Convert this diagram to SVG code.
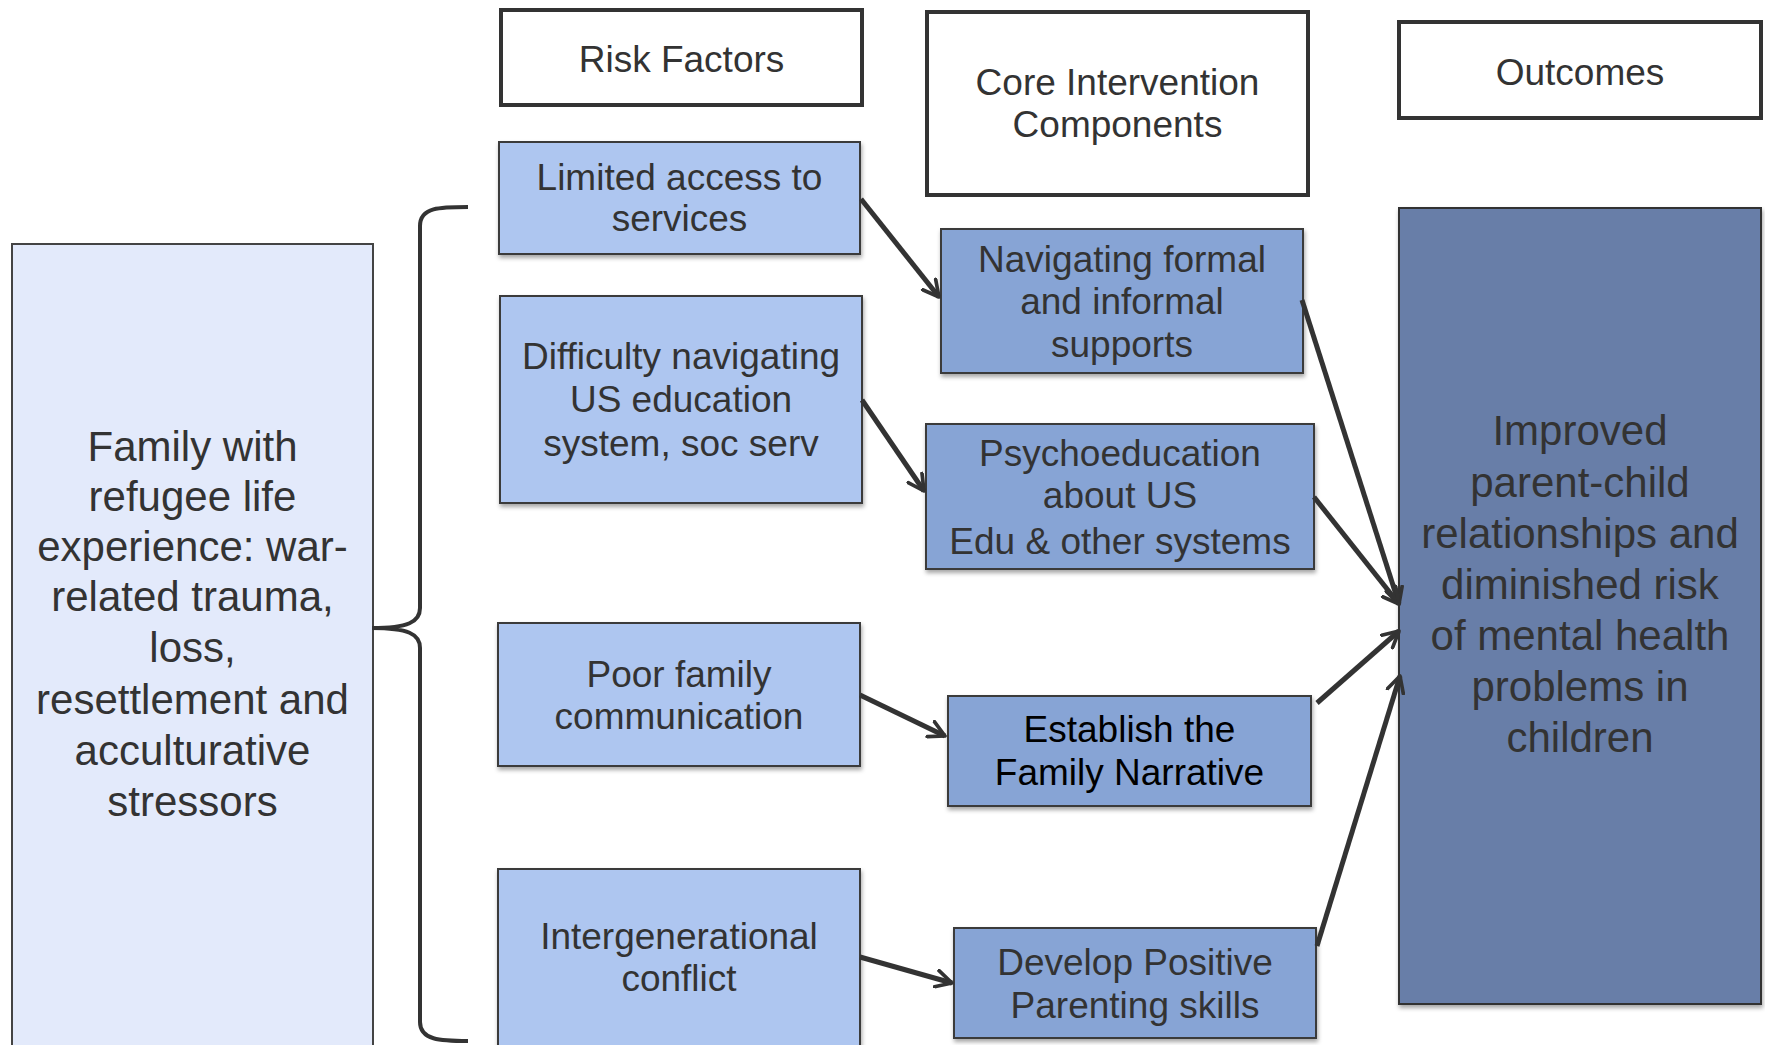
<svg xmlns="http://www.w3.org/2000/svg" width="1765" height="1045" viewBox="0 0 1765 1045">
<style>
  text { font-family: "Liberation Sans", Arial, Helvetica, sans-serif; fill: #333333; text-anchor: middle; }
  .hdr rect { fill: #ffffff; stroke: #333333; stroke-width: 4; }
  .hdr text { font-size: 37px; }
  .risk rect { fill: #aec6f0; stroke: #3a3a3a; stroke-width: 2; filter: url(#sh); }
  .core rect { fill: #87a4d5; stroke: #3a3a3a; stroke-width: 2; filter: url(#sh); }
  .node text { font-size: 37px; }
  .big { font-size: 42px; }
  .conn line { stroke: #333333; stroke-width: 5; marker-end: url(#ah); }
</style>
<defs>
  <filter id="sh" x="-5%" y="-5%" width="115%" height="120%">
    <feDropShadow dx="1" dy="3" stdDeviation="2" flood-color="#000" flood-opacity="0.35"/>
  </filter>
  <marker id="ah" viewBox="0 0 12 12" refX="10.5" refY="6" markerWidth="4" markerHeight="4" orient="auto" markerUnits="strokeWidth">
    <path d="M1,1 L10.5,6 L1,11" fill="none" stroke="#333333" stroke-width="2.2" stroke-linecap="round" stroke-linejoin="round"/>
  </marker>
</defs>

<g id="left-family">
  <rect x="12" y="244" width="361" height="820" fill="#e3eafb" stroke="#444444" stroke-width="2"/>
  <text class="big" x="192.5" y="461">Family with</text>
  <text class="big" x="192.5" y="511">refugee life</text>
  <text class="big" x="192.5" y="561">experience: war-</text>
  <text class="big" x="192.5" y="611">related trauma,</text>
  <text class="big" x="192.5" y="662">loss,</text>
  <text class="big" x="192.5" y="714">resettlement and</text>
  <text class="big" x="192.5" y="765">acculturative</text>
  <text class="big" x="192.5" y="816">stressors</text>
</g>

<g id="brace">
  <path d="M468,207 C440,207 420,207 420,226 L420,608 C420,622 408,628 372,628 C408,628 420,634 420,648 L420,1022 C420,1040 440,1041 468,1041" fill="none" stroke="#333333" stroke-width="4"/>
</g>

<g id="hdr-risk" class="hdr">
  <rect x="501" y="10" width="361" height="95"/>
  <text x="681.5" y="72">Risk Factors</text>
</g>
<g id="hdr-core" class="hdr">
  <rect x="927" y="12" width="381" height="183"/>
  <text x="1117.5" y="95">Core Intervention</text>
  <text x="1117.5" y="137">Components</text>
</g>
<g id="hdr-outcomes" class="hdr">
  <rect x="1399" y="22" width="362" height="96"/>
  <text x="1580" y="85">Outcomes</text>
</g>

<g id="risk-access" class="node risk">
  <rect x="499" y="142" width="361" height="112"/>
  <text x="679.5" y="190">Limited access to</text>
  <text x="679.5" y="231">services</text>
</g>
<g id="risk-education" class="node risk">
  <rect x="500" y="296" width="362" height="207"/>
  <text x="681" y="369">Difficulty navigating</text>
  <text x="681" y="412">US education</text>
  <text x="681" y="456">system, soc serv</text>
</g>
<g id="risk-communication" class="node risk">
  <rect x="498" y="623" width="362" height="143"/>
  <text x="679" y="687">Poor family</text>
  <text x="679" y="729">communication</text>
</g>
<g id="risk-conflict" class="node risk">
  <rect x="498" y="869" width="362" height="190"/>
  <text x="679" y="949">Intergenerational</text>
  <text x="679" y="991">conflict</text>
</g>

<g id="core-supports" class="node core">
  <rect x="941" y="229" width="362" height="144"/>
  <text x="1122" y="272">Navigating formal</text>
  <text x="1122" y="314">and informal</text>
  <text x="1122" y="357">supports</text>
</g>
<g id="core-psychoeducation" class="node core">
  <rect x="926" y="424" width="388" height="145"/>
  <text x="1120" y="466">Psychoeducation</text>
  <text x="1120" y="508">about US</text>
  <text x="1120" y="554">Edu &amp; other systems</text>
</g>
<g id="core-narrative" class="node core">
  <rect x="948" y="696" width="363" height="110"/>
  <text x="1129.5" y="742" style="fill:#000000">Establish the</text>
  <text x="1129.5" y="785" style="fill:#000000">Family Narrative</text>
</g>
<g id="core-parenting" class="node core">
  <rect x="954" y="928" width="362" height="110"/>
  <text x="1135" y="975">Develop Positive</text>
  <text x="1135" y="1018">Parenting skills</text>
</g>

<g id="outcome">
  <rect x="1399" y="208" width="362" height="796" fill="#677ea8" stroke="#333333" stroke-width="2" filter="url(#sh)"/>
  <text class="big" x="1580" y="445">Improved</text>
  <text class="big" x="1580" y="497">parent-child</text>
  <text class="big" x="1580" y="548">relationships and</text>
  <text class="big" x="1580" y="599">diminished risk</text>
  <text class="big" x="1580" y="650">of mental health</text>
  <text class="big" x="1580" y="701">problems in</text>
  <text class="big" x="1580" y="752">children</text>
</g>

<g id="connectors" class="conn">
  <line x1="861" y1="199" x2="939" y2="297"/>
  <line x1="862" y1="400" x2="924" y2="491"/>
  <line x1="860" y1="695" x2="945" y2="736"/>
  <line x1="860" y1="957" x2="952" y2="983"/>
  <line x1="1302" y1="300" x2="1399" y2="604"/>
  <line x1="1314" y1="497" x2="1399" y2="604"/>
  <line x1="1317" y1="703" x2="1399" y2="631"/>
  <line x1="1317" y1="946" x2="1400" y2="676"/>
</g>
</svg>
